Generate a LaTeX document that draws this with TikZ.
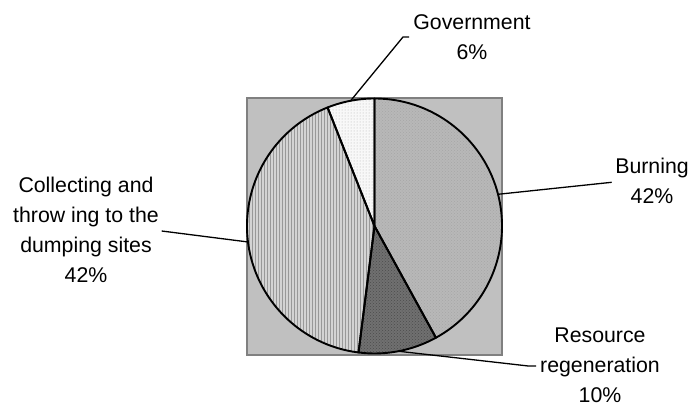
\documentclass[tikz,border=0pt]{standalone}
\usepackage{fontspec}
\setmainfont{Liberation Sans}
\usetikzlibrary{calc,patterns}
\definecolor{bgsq}{HTML}{C0C0C0}
\definecolor{bgedge}{HTML}{808080}
\definecolor{burnc}{HTML}{B8B8B8}
\definecolor{resc}{HTML}{707070}
\definecolor{collc}{HTML}{D4D4D4}
\definecolor{govc}{HTML}{F8F8F8}
\begin{document}
\begin{tikzpicture}[x=1pt,y=1pt,
  lbl/.style={align=center, font=\fontsize{21.3}{30}\selectfont, inner sep=0pt},
  leader/.style={line width=1.3pt, line join=round},
  slice/.style={draw=black, line width=1.9pt, line join=round}]
\useasboundingbox (0,0) rectangle (691,407);
% plot area
\filldraw[fill=bgsq, draw=bgedge, line width=1.5pt] (247,52) rectangle (502,309);
\coordinate (c) at (374.5,181);
\def\R{127.5}
\def\burn{(c) -- ++(90:\R) arc[start angle=90, end angle=-61.2, radius=\R] -- cycle}
\def\res{(c) -- ++(-61.2:\R) arc[start angle=-61.2, end angle=-97.2, radius=\R] -- cycle}
\def\coll{(c) -- ++(-97.2:\R) arc[start angle=-97.2, end angle=-248.4, radius=\R] -- cycle}
\def\gov{(c) -- ++(-248.4:\R) arc[start angle=-248.4, end angle=-270, radius=\R] -- cycle}
% slice fills with textures
\fill[burnc] \burn;
\fill[pattern=crosshatch dots, pattern color=gray!70] \burn;
\fill[resc] \res;
\fill[pattern=crosshatch dots, pattern color=black!70] \res;
\fill[collc] \coll;
\fill[pattern=vertical lines, pattern color=gray!80] \coll;
\fill[govc] \gov;
\fill[pattern=dots, pattern color=gray!60] \gov;
% outlines
\draw[slice] \burn;
\draw[slice] \res;
\draw[slice] \coll;
\draw[slice] \gov;
% anchor points on pie
\coordinate (pb) at ($(c)+(14.4:\R)$);
\coordinate (pr) at ($(c)+(-79.2:\R)$);
\coordinate (pc) at ($(c)+(-172.8:\R)$);
\coordinate (pg) at ($(c)+(100.8:\R)$);
% labels
\node[lbl] (lg) at (472,370) {Government\\6\%};
\node[lbl] (lb) at (652,226) {Burning\\42\%};
\node[lbl] (lr) at (600,42) {Resource\\regeneration\\10\%};
\node[lbl] (lc) at (86,177) {Collecting and\\throw ing to the\\dumping sites\\42\%};
% leader lines
\coordinate (gk) at (403,370);
\coordinate (ge) at (409,370);
\coordinate (be) at (611.7,224.7);
\coordinate (rk) at (528.3,41);
\coordinate (re) at (536,41);
\coordinate (ce) at (161.7,176);
\draw[leader] (pg) -- (gk) -- (ge);
\draw[leader] (pb) -- (be);
\draw[leader] (pr) -- (rk) -- (re);
\draw[leader] (pc) -- (ce);
\end{tikzpicture}
\end{document}
